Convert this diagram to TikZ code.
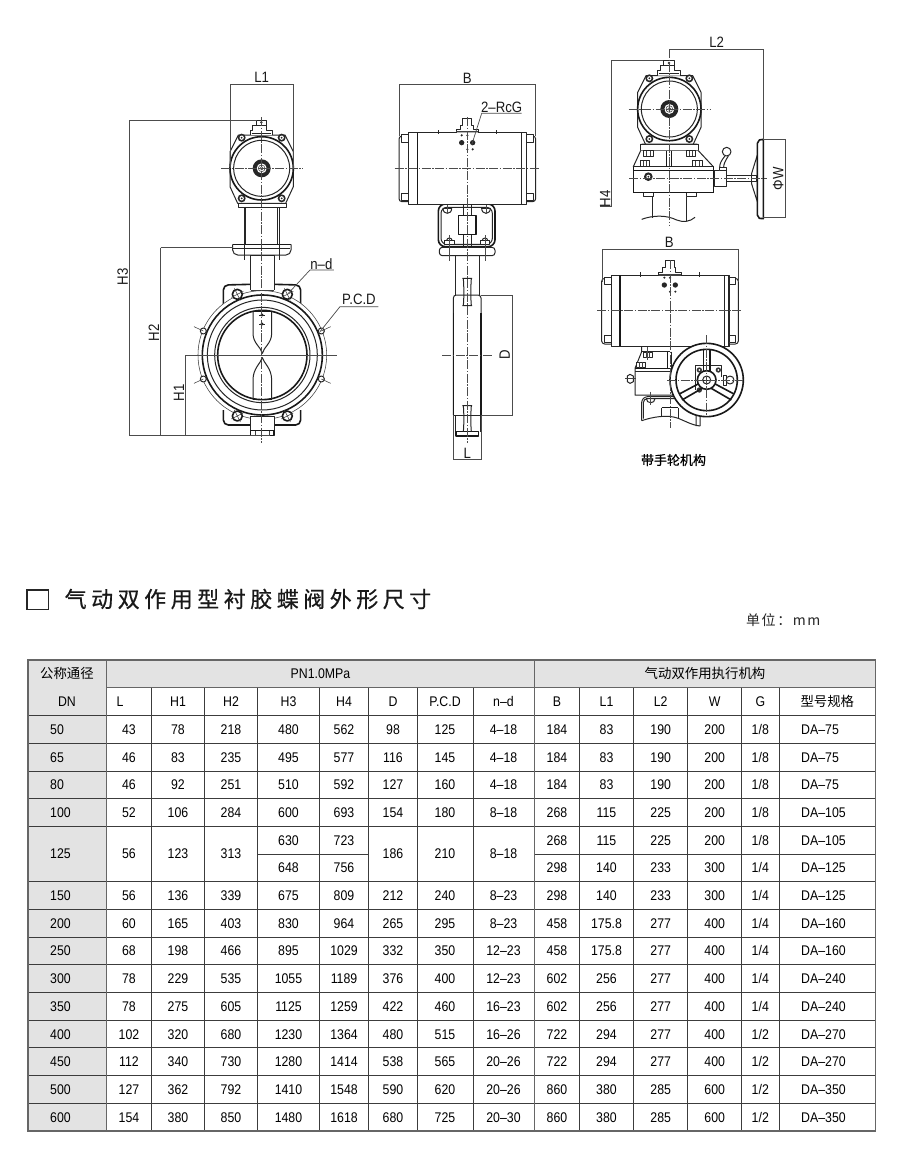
\documentclass[tikz,border=0pt]{standalone}
\usepackage{fontspec}
\setmainfont{Liberation Sans}
\newfontfamily\latnf[FakeStretch=0.88]{Liberation Sans}
\newfontfamily\dimf[FakeStretch=0.88]{Liberation Sans}
\newfontfamily\cjkf{Noto Sans CJK SC}
\newfontfamily\titlef[LetterSpace=20.5,FakeBold=0.5]{Noto Sans CJK SC}
\newfontfamily\wheelf[FakeBold=0.5]{Noto Sans CJK SC}
\newfontfamily\unitf[LetterSpace=11]{Noto Sans CJK SC}
\definecolor{cellgray}{HTML}{E3E3E3}
\definecolor{rulec}{HTML}{3C3C3C}
\newcommand\tfnt{\fontsize{14}{15}\selectfont\latnf}
\newcommand\cfnt{\fontsize{13.4}{15}\selectfont\cjkf}
\newcommand\dfnt{\fontsize{15}{16}\selectfont\dimf}
\tikzset{
 ml/.style={line width=1pt,black!85,line join=round},
 bl/.style={line width=1.6pt,black!90,line join=round},
 tl/.style={line width=0.55pt,black!75},
 cl/.style={line width=0.55pt,black!70,dash pattern=on 9pt off 1.5pt on 1.5pt off 1.5pt},
 dimln/.style={line width=0.7pt,black!70},
 cell/.style={font=\tfnt,inner sep=0pt,text=black,text height=9.8pt,text depth=0pt},
 ccell/.style={font=\cfnt,inner sep=0pt,text=black,text height=10.5pt,text depth=1pt},
 dimt/.style={font=\dfnt,inner sep=0pt,text=black!90},
 trule/.style={line width=0.85pt,rulec},
 tthick/.style={line width=1.4pt,black!60},
 zoomA/.style={shift={(100,60)},x=0.33333pt,y=-0.33333pt},
 zoomB/.style={shift={(380,60)},x=0.33333pt,y=-0.33333pt},
 zoomC/.style={shift={(590,25)},x=0.33333pt,y=-0.33333pt},
 zoomD/.style={shift={(590,230)},x=0.33333pt,y=-0.33333pt},
 zoomE/.style={shift={(610,340)},x=0.33333pt,y=-0.33333pt},
 zoomF/.style={shift={(620,130)},x=0.33333pt,y=-0.33333pt},
}
\newcommand\actfront{%
 \draw[ml,fill=white] (-70,-100)--(70,-100)--(95,-50)--(95,55)--(72,105)--(-72,105)--(-95,55)--(-95,-50)--cycle;
 \foreach \sx/\sy in {-60/-92,60/-92,-60/90,60/90}{
  \fill[black!85] (\sx,\sy) circle[radius=12];
  \fill[white] (\sx,\sy) circle[radius=6.5];
  \fill[black!85] (\sx,\sy) circle[radius=3];}
 \draw[bl,fill=white] (0,0) circle[radius=95];
 \draw[ml] (0,0) circle[radius=84];
 \fill[black!85] (0,0) circle[radius=27];
 \fill[white] (0,0) circle[radius=15];
 \draw[tl] (0,0) circle[radius=10];
 \draw[tl] (0,0) circle[radius=5];
 \draw[ml,fill=white] (-35,-100)--(-35,-115)--(-28,-115)--(-28,-130)--(15,-130)--(15,-115)--(32,-115)--(32,-100);
 \draw[ml,fill=white] (-17,-145) rectangle (14,-130);
 \draw[ml] (-30,-106)--(28,-106);
 \fill[black!80] (-1,-138) circle[radius=4];
 \draw[cl] (-122,0)--(122,0);
}
\newcommand\actside{%
 \draw[ml,fill=white] (-177,-107) rectangle (178,107);
 \draw[bl] (-150,-107)--(-150,107);
 \draw[ml] (163,-107)--(163,107);
 \draw[ml] (176,-107)--(176,107);
 \draw[ml,rounded corners=3pt] (-177,-97)--(-205,-97)--(-205,100)--(-177,100);
 \draw[ml,rounded corners=3pt] (178,-97)--(205,-97)--(205,100)--(178,100);
 \foreach \bx/\by in {-187/-90,-187/85,187/-90,187/85}{
  \draw[ml,fill=white] (\bx-10,\by-11) rectangle (\bx+10,\by+11);}
 \draw[ml,fill=white] (-34,-107)--(-34,-116)--(-22,-116)--(-22,-130)--(-15,-130)--(-15,-150)--(13,-150)--(13,-130)--(17,-130)--(17,-116)--(33,-116)--(33,-107);
 \draw[tl] (-34,-110)--(33,-110);
 \fill[black!85] (-17,-77) circle[radius=8] (16,-77) circle[radius=8];
 \fill[black!85] (-17,-99) circle[radius=3.5] (0,-99) circle[radius=3.5] (0,-57) circle[radius=3.5] (16,-57) circle[radius=3.5];
 \draw[ml] (-88,-115)--(-88,-102) (88,-115)--(88,-102);
 \draw[cl] (-218,0)--(218,0);
}
\newcommand\boltb[2]{%
 \draw[ml,fill=white] (#1-14,#2-8) rectangle (#1+14,#2+8);
 \draw[tl] (#1-5,#2-8)--(#1-5,#2+8) (#1+5,#2-8)--(#1+5,#2+8);}
\begin{document}
\begin{tikzpicture}[x=1pt,y=-1pt]
\useasboundingbox (0,0) rectangle (900,1149);
\fill[white] (0,0) rectangle (900,1149);

%%%%%%%%%%%%%%% FRONT VIEW
\begin{scope}[zoomA]
 \begin{scope}[shift={(487,885)}]
  \draw[bl,rounded corners=5pt] (-117,-150)--(-117,-210)--(-35,-212)--(35,-212)--(115,-210)--(115,-150);
  \draw[bl,rounded corners=5pt] (-117,165)--(-117,210)--(-35,210)--(35,210)--(115,210)--(115,165);
  \draw[tl,fill=white] (0,0) circle[radius=193];
  \draw[bl,fill=white] (0,0) circle[radius=180];
  \draw[ml] (0,0) circle[radius=165];
  \draw[ml] (0,0) circle[radius=143];
  \draw[bl,fill=white] (0,0) circle[radius=134];
  \foreach \hx/\hy in {-75/-182,75/-182,-75/183,75/183}{
   \draw[bl,fill=white] (\hx,\hy) circle[radius=15];
   \draw[tl] (\hx-18,\hy+9)--(\hx+18,\hy-9) (\hx-9,\hy-18)--(\hx+9,\hy+18);}
  \foreach \nx/\ny/\ex/\ey in {-177/-72/-205/-85,177/-72/205/-85,-177/72/-205/85,177/72/205/85}{
   \draw[ml,fill=white] (\nx,\ny) circle[radius=9];
   \draw[tl] (\nx,\ny)--(\ex,\ey);}
  \draw[ml] (-28,-130)--(-28,-65) .. controls (-28,-35) and (-5,-25) .. (0,-5) .. controls (5,-25) and (28,-35) .. (28,-65)--(28,-130);
  \draw[bl] (-28,-130)--(28,-130);
  \draw[ml] (-28,133)--(-28,75) .. controls (-28,40) and (-5,25) .. (0,8) .. controls (5,25) and (28,40) .. (28,75)--(28,133);
  \draw[bl] (-28,133)--(28,133);
  \fill[black!90] (-1,-120) circle[radius=5] (-1,-93) circle[radius=5];
  \draw[ml] (-10,-120)--(8,-120) (-10,-93)--(8,-93);
  \draw[ml,fill=white] (-35,-195)--(-35,-300)--(35,-300)--(35,-195);
  \draw[tl,fill=white] (-35,-195)--(35,-195);
  \draw[ml,fill=white] (-35,185)--(-35,227)--(35,227)--(35,185)--cycle;
  \draw[bl] (-35,227)--(-35,242)--(35,242)--(35,227)--cycle;
  \draw[tl] (-20,227)--(-20,242) (20,227)--(20,242);
 \end{scope}
 \draw[ml,rounded corners=5pt] (398,553)--(398,585)--(573,585)--(573,553);
 \draw[bl] (398,553)--(573,553);
 \draw[ml] (400,565)--(571,565);
 \draw[ml] (433,440)--(433,600) (437,440)--(437,553) (533,440)--(533,553) (538,440)--(538,600);
 \draw[ml,fill=white] (414,430) rectangle (560,442);
 \begin{scope}[shift={(485,325)}]\actfront\end{scope}
 \draw[cl] (485,172)--(485,1150);
 \draw[dimln] (257,885)--(712,885);
 \draw[dimln] (390,73)--(580,73) (390,73)--(390,325) (580,73)--(580,325);
 \node[dimt] (lbLone) at (485,53) {L1};
 \draw[dimln] (88,180)--(88,1127) (88,180)--(470,180) (88,1127)--(510,1127);
 \node[dimt,rotate=90] (lbHthree) at (68,650) {H3};
 \draw[dimln] (182,563)--(182,1127) (182,563)--(398,563);
 \node[dimt,rotate=90] (lbHtwo) at (162,818) {H2};
 \draw[dimln] (257,885)--(257,1127);
 \node[dimt,rotate=90] (lbHone) at (237,998) {H1};
 \draw[dimln] (565,700)--(630,630)--(702,630);
 \node[dimt] (lbNd) at (664,612) {n–d};
 \draw[dimln] (660,815)--(720,740)--(835,740);
 \node[dimt] (lbPcd) at (777,719) {P.C.D};
\end{scope}

%%%%%%%%%%%%%%% SIDE VIEW
\begin{scope}[zoomB]
 \draw[bl,rounded corners=7pt] (175,432)--(175,560)--(345,560)--(345,432)--cycle;
 \draw[ml,rounded corners=6pt] (183,442)--(183,553)--(337,553)--(337,442)--cycle;
 \draw[ml,rounded corners=3pt] (178,562) rectangle (345,587);
 \draw[ml] (250,435)--(250,558) (275,435)--(275,558);
 \draw[bl,fill=white] (235,467) rectangle (288,523);
 \foreach \bx in {202,318}{
  \draw[ml] (\bx-13,445) .. controls (\bx-13,465) and (\bx+13,465) .. (\bx+13,445)--cycle;
  \draw[dimln] (\bx,408)--(\bx,462);}
 \foreach \bx in {208,315}{
  \draw[ml,fill=white] (\bx-14,541) rectangle (\bx+14,553);
  \draw[ml] (\bx-8,541) .. controls (\bx-8,532) and (\bx+8,532) .. (\bx+8,541);
  \draw[dimln] (\bx,525)--(\bx,603);}
 \draw[ml] (226,587)--(226,705) (297,587)--(297,705);
 \draw[ml,rounded corners=3pt] (220,1065)--(220,705)--(303,705)--(303,1065);
 \draw[bl] (220,760)--(220,1065) (303,760)--(303,1065);
 \draw[ml] (220,1065)--(303,1065);
 \draw[ml] (225,1065)--(225,1115) (300,1065)--(300,1115);
 \draw[bl] (228,1115) rectangle (296,1128);
 \draw[ml] (247,655)--(276,655) (250,655) .. controls (252,680) and (252,715) .. (250,737) (274,655) .. controls (272,680) and (272,715) .. (274,737) (247,737)--(276,737);
 \draw[ml] (247,1037)--(276,1037) (250,1037) .. controls (252,1060) and (252,1095) .. (250,1115) (274,1037) .. controls (272,1060) and (272,1095) .. (274,1115);
 \begin{scope}[shift={(262,325)}]\actside\end{scope}
 \draw[cl] (262,172)--(262,1150);
 \draw[cl] (187,885)--(340,885);
 \draw[dimln] (57,72)--(465,72) (57,72)--(57,228) (465,72)--(465,228);
 \node[dimt] (lbB) at (262,54) {B};
 \draw[dimln] (303,705)--(398,705)--(398,1065)--(303,1065);
 \node[dimt,rotate=90] (lbD) at (374,885) {D};
 \draw[dimln] (220,1065)--(220,1198)--(303,1198)--(303,1065);
 \node[dimt] (lbL) at (262,1180) {L};
 \draw[dimln] (275,255)--(305,160)--(425,160);
 \node[dimt] (lbRc) at (365,141) {2–RcG};
\end{scope}

%%%%%%%%%%%%%%% TOP RIGHT VIEW
\begin{scope}[zoomF]
 \draw[ml] (98,200)--(98,263) (200,200)--(200,272);
 \draw[ml] (65,268) .. controls (100,255) and (140,255) .. (170,270) .. controls (190,278) and (210,275) .. (225,262);
 \draw[ml,fill=white] (62,43) rectangle (235,62);
 \draw[ml,fill=white] (62,62)--(40,110)--(280,110)--(235,62);
 \draw[ml,fill=white] (40,110) rectangle (280,188);
 \draw[bl] (40,122)--(280,122) (40,188)--(280,188) (280,110)--(280,188) (40,110)--(40,188);
 \draw[ml] (70,188)--(70,199)--(100,199)--(100,188) (200,188)--(200,199)--(228,199)--(228,188);
 \draw[bl] (140,62)--(140,110) (155,62)--(155,110);
 \boltb{85}{70}\boltb{212}{70}\boltb{75}{100}\boltb{232}{100}
 \fill[black!85] (85,140) circle[radius=13];
 \fill[white] (85,140) circle[radius=6];
 \fill[black!85] (85,140) circle[radius=3];
 \draw[ml,fill=white] (283,122) rectangle (318,168);
 \draw[ml,fill=white] (297,112) rectangle (318,122);
 \draw[ml] (299,112) .. controls (299,100) and (305,90) .. (315,78);
 \draw[ml] (311,112) .. controls (311,102) and (316,92) .. (325,78);
 \draw[ml,fill=white] (320,65) circle[radius=13];
 \draw[ml] (318,135)--(395,135) (318,155)--(395,155);
 \draw[ml,fill=white] (412,75)--(395,130)--(395,162)--(412,215)--cycle;
 \draw[ml,fill=white] (395,137) rectangle (410,153);
 \draw[bl,fill=white] (430,28)--(418,30)--(412,40)--(412,255)--(418,265)--(430,266)--cycle;
 \begin{scope}[shift={(148,-63)}]\actfront\end{scope}
 \draw[ml] (78,42)--(62,43) (218,42)--(235,43);
\end{scope}
\begin{scope}[zoomC]
 \draw[cl] (238,72)--(238,600);
 \draw[cl] (118,460)--(530,460);
 \draw[dimln] (238,72)--(520,72)--(520,342);
 \node[dimt] (lbLtwo) at (380,52) {L2};
 \draw[dimln] (220,105)--(63,105)--(63,545)--(30,545);
 \node[dimt,rotate=90] (lbHfour) at (46,521) {H4};
 \draw[dimln] (520,342)--(588,342) (520,578)--(588,578) (585,342)--(585,578);
 \node[dimt,rotate=90] (lbW) at (565,462) {ΦW};
\end{scope}

%%%%%%%%%%%%%%% BOTTOM RIGHT VIEW
\begin{scope}[zoomE]
 \draw[ml] (95,20)--(95,35)--(75,85)--(75,165)--(190,165);
 \draw[ml] (95,35)--(180,35);
 \draw[bl] (75,85)--(190,85);
 \draw[ml] (75,95)--(190,95);
 \draw[bl] (172,35)--(172,85);
 \draw[ml] (185,35)--(185,85);
 \boltb{113}{45}\boltb{92}{75}\boltb{232}{75}\boltb{245}{45}
 \draw[dimln] (113,0)--(113,60);
 \draw[ml,fill=white] (52,108)--(60,103)--(70,108)--(70,125)--(60,130)--(52,125)--cycle;
 \draw[tl] (45,116)--(78,116);
 \draw[ml,rounded corners=6pt] (95,242)--(95,170)--(270,170)--(270,258);
 \draw[ml,rounded corners=4pt] (100,236)--(100,176)--(258,176)--(258,258);
 \draw[ml] (95,242) .. controls (125,232) and (170,222) .. (205,235) .. controls (225,243) and (245,255) .. (270,258);
 \draw[bl] (155,203)--(205,203);
 \draw[ml] (155,203)--(155,228) (205,203)--(205,235);
 \foreach \bx in {122,238}{
  \draw[ml,fill=white] (\bx-13,176) .. controls (\bx-13,192) and (\bx+13,192) .. (\bx+13,176)--cycle;
  \draw[dimln] (\bx,155)--(\bx,195);}
\end{scope}
\begin{scope}[zoomD]
 \begin{scope}[shift={(240,242)}]\actside\end{scope}
\end{scope}
\begin{scope}[zoomE]
 \begin{scope}[shift={(290,120)}]
  \draw[bl,fill=white] (0,0) circle[radius=110];
  \draw[bl,fill=white] (0,0) circle[radius=92];
  \draw[ml] (-35,-45)--(45,-45)--(45,-10) (-35,-45)--(-35,30);
  \fill[black!80] (-22,-30) circle[radius=8] (35,-30) circle[radius=8] (-22,30) circle[radius=8];
  \fill[white] (-22,-30) circle[radius=3] (35,-30) circle[radius=3] (-22,30) circle[radius=3];
  \draw[bl] (-10,-92)--(-10,-25) (10,-92)--(10,-25);
  \draw[bl] (-22,10)--(-82,42) (-12,24)--(-74,60);
  \draw[bl] (22,10)--(82,42) (12,24)--(74,60);
  \draw[bl,fill=white] (0,0) circle[radius=28];
  \draw[ml] (0,0) circle[radius=12];
  \draw[ml] (-12,0)--(12,0);
  \draw[ml,fill=white] (50,-15) rectangle (60,15);
  \draw[ml,fill=white] (70,0) circle[radius=12];
 \end{scope}
 \draw[cl] (290,-15)--(290,225);
 \draw[cl] (172,120)--(400,120);
\end{scope}
\begin{scope}[zoomD]
 \draw[cl] (240,90)--(240,595);
 \draw[dimln] (37,57)--(445,57) (37,57)--(37,155) (445,57)--(445,155);
 \node[dimt] (lbBb) at (238,37) {B};
\end{scope}
\node[font=\fontsize{13}{15}\selectfont\wheelf,inner sep=0pt] (lbWheel) at (673.5,460) {带手轮机构};

%%%%%%%%%%%%%%% TITLE
\draw[line width=1.6pt,black!85] (26.7,590) rectangle (48.3,609.3);
\node[font=\fontsize{22}{24}\selectfont\titlef,anchor=west,inner sep=0pt,text=black!90] (ttl) at (64.5,599) {气动双作用型衬胶蝶阀外形尺寸};
\node[font=\fontsize{14}{16}\selectfont\unitf,anchor=west,inner sep=0pt,text=black!85] (unit) at (746,620) {单位：mm};

%%%%%%%%%%%%%%% TABLE
\fill[cellgray] (28,660) rectangle (106.7,1131);
\fill[cellgray] (106.7,660) rectangle (875.7,687.7);
\foreach \yy in {715.3,743.3,771,798.7,826.3,881.7,909.4,937.1,964.8,992.5,1020.2,1047.9,1075.6,1103.3}{
 \draw[trule] (28,\yy)--(875.7,\yy);}
\draw[trule] (257.7,854)--(368.7,854) (534.3,854)--(875.7,854);
\draw[tthick] (106.7,687.7)--(875.7,687.7);
\foreach \xx in {151.7,204.3,257.7,319.3,368.7,417.3,473,579.3,633.7,687.7,741.7,779}{
 \draw[trule] (\xx,687.7)--(\xx,1131);}
\draw[tthick] (106.7,660)--(106.7,1131) (534.3,660)--(534.3,1131);
\draw[tthick] (28,660) rectangle (875.7,1131);
\node[ccell] (hA) at (67,674) {公称通径};
\node[cell] (hB) at (67,701.5) {DN};
\node[cell] (hC) at (320.5,674) {PN1.0MPa};
\node[ccell] (hD) at (705,674) {气动双作用执行机构};
\newcommand\cxlist{{129,178,231,288.5,344,393,445,503.5,557,606.5,660.7,714.7,760.3,827.3}}
\newcommand\trow[3]{%
 \node[cell,anchor=west] (dn#1) at (50,#2) {#1};
 \foreach \tv [count=\ci from 0] in {#3}{
  \pgfmathsetmacro\cx{\cxlist[\ci]}
  \node[cell] (v#1c\ci) at (\cx,#2) {\tv};}
 \node[cell,anchor=west] (ty#1) at (801,#2) {\typev};
}
\foreach \tv [count=\ci from 0] in {H1,H2,H3,H4,D,P.C.D,n–d,B,L1,L2,W,G}{
 \pgfmathsetmacro\cx{{178,231,288.5,344,393,445,503.5,557,606.5,660.7,714.7,760.3}[\ci]}
 \node[cell] (hd\ci) at (\cx,701.5) {\tv};}
\node[cell,anchor=west] (hdL) at (116.5,701.5) {L};
\node[ccell] (hdT) at (827.3,701.5) {型号规格};
\def\typev{DA–75}
\trow{50}{729.3}{43,78,218,480,562,98,125,4–18,184,83,190,200,1/8}
\trow{65}{757.1}{46,83,235,495,577,116,145,4–18,184,83,190,200,1/8}
\trow{80}{784.9}{46,92,251,510,592,127,160,4–18,184,83,190,200,1/8}
\def\typev{DA–105}
\trow{100}{812.5}{52,106,284,600,693,154,180,8–18,268,115,225,200,1/8}
\node[cell,anchor=west] (dnA) at (50,854) {125};
\node[cell] (mA) at (129,854) {56};
\node[cell] (mB) at (178,854) {123};
\node[cell] (mC) at (231,854) {313};
\node[cell] (mD) at (288.5,840.2) {630};
\node[cell] (mE) at (344,840.2) {723};
\node[cell] (mF) at (288.5,867.9) {648};
\node[cell] (mG) at (344,867.9) {756};
\node[cell] (mH) at (393,854) {186};
\node[cell] (mI) at (445,854) {210};
\node[cell] (mJ) at (503.5,854) {8–18};
\foreach \tv [count=\ci from 0] in {268,115,225,200,1/8}{
 \pgfmathsetmacro\cx{{557,606.5,660.7,714.7,760.3}[\ci]}
 \node[cell] (ra\ci) at (\cx,840.2) {\tv};}
\node[cell,anchor=west] (raT) at (801,840.2) {DA–105};
\foreach \tv [count=\ci from 0] in {298,140,233,300,1/4}{
 \pgfmathsetmacro\cx{{557,606.5,660.7,714.7,760.3}[\ci]}
 \node[cell] (rb\ci) at (\cx,867.9) {\tv};}
\node[cell,anchor=west] (rbT) at (801,867.9) {DA–125};
\def\typev{DA–125}
\trow{150}{895.6}{56,136,339,675,809,212,240,8–23,298,140,233,300,1/4}
\def\typev{DA–160}
\trow{200}{923.3}{60,165,403,830,964,265,295,8–23,458,175.8,277,400,1/4}
\trow{250}{951}{68,198,466,895,1029,332,350,12–23,458,175.8,277,400,1/4}
\def\typev{DA–240}
\trow{300}{978.7}{78,229,535,1055,1189,376,400,12–23,602,256,277,400,1/4}
\trow{350}{1006.4}{78,275,605,1125,1259,422,460,16–23,602,256,277,400,1/4}
\def\typev{DA–270}
\trow{400}{1034.1}{102,320,680,1230,1364,480,515,16–26,722,294,277,400,1/2}
\trow{450}{1061.8}{112,340,730,1280,1414,538,565,20–26,722,294,277,400,1/2}
\def\typev{DA–350}
\trow{500}{1089.5}{127,362,792,1410,1548,590,620,20–26,860,380,285,600,1/2}
\trow{600}{1117.2}{154,380,850,1480,1618,680,725,20–30,860,380,285,600,1/2}
\end{tikzpicture}
\end{document}
